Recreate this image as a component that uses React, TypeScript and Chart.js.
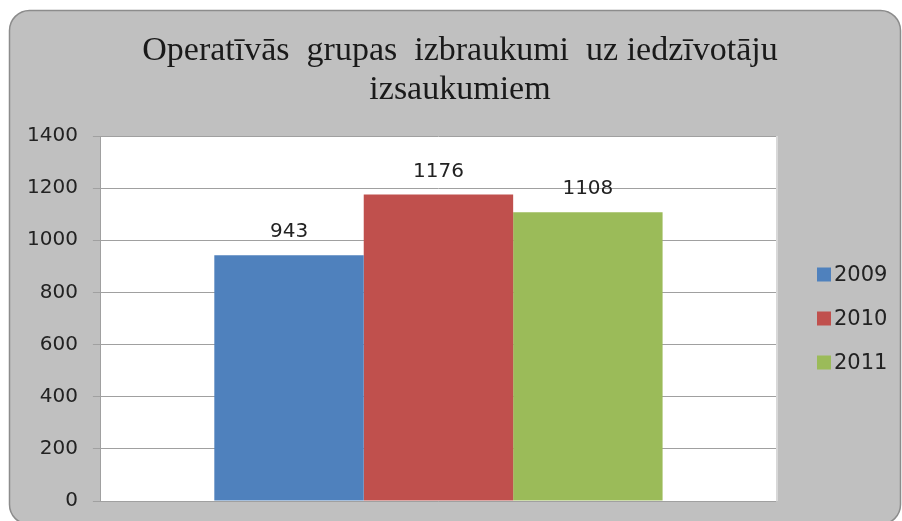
import React, { useEffect, useRef } from "react";
import { Chart, registerables } from "chart.js";

Chart.register(...registerables);

const titleLines = ["Operatīvās  grupas  izbraukumi  uz iedzīvotāju", "izsaukumiem"];
const categories = [""];
const seriesNames = ["2009", "2010", "2011"];
const seriesValues = [[943], [1176], [1108]];
const seriesColors = ["#4F81BD", "#C0504D", "#9BBB59"];
const yMin = 0;
const yMax = 1400;
const yStep = 200;

const bgPlugin = {
  id: "bgPlugin",
  beforeDraw(chart: any) {
    const { ctx, chartArea } = chart;
    ctx.save();
    ctx.fillStyle = "#ffffff";
    ctx.fillRect(0, 0, chart.width, chart.height);
    ctx.beginPath();
    (ctx as any).roundRect(9.5, 10.5, 891, 514, 20);
    ctx.fillStyle = "#C0C0C0";
    ctx.fill();
    ctx.lineWidth = 1.5;
    ctx.strokeStyle = "#8C8C8C";
    ctx.stroke();
    ctx.fillStyle = "#ffffff";
    ctx.fillRect(chartArea.left, chartArea.top, chartArea.right - chartArea.left, chartArea.bottom - chartArea.top);
    ctx.fillStyle = "#D8D8D8";
    ctx.fillRect(chartArea.right, chartArea.top, 2, chartArea.bottom - chartArea.top);
    ctx.restore();
  },
};

const overlayPlugin = {
  id: "overlayPlugin",
  afterDatasetsDraw(chart: any) {
    const { ctx, chartArea } = chart;
    ctx.save();
    ctx.font = "20px 'DejaVu Sans'";
    ctx.fillStyle = "#222";
    ctx.textAlign = "center";
    ctx.textBaseline = "middle";
    chart.data.datasets.forEach((ds: any, i: number) => {
      const meta = chart.getDatasetMeta(i);
      meta.data.forEach((bar: any, j: number) => {
        ctx.fillText(String(ds.data[j]), bar.x, bar.y - 23);
      });
    });
    ctx.font = "34px 'Liberation Serif'";
    ctx.fillStyle = "#1a1a1a";
    ctx.textAlign = "center";
    titleLines.forEach((line, i) => {
      ctx.fillText(line, 460, 51 + i * 39);
    });
    const cy = (chartArea.top + chartArea.bottom) / 2;
    const lx = chartArea.right + 41;
    ctx.font = "21px 'DejaVu Sans'";
    ctx.textAlign = "left";
    seriesNames.forEach((name, i) => {
      const y = cy + (i - (seriesNames.length - 1) / 2) * 44;
      ctx.fillStyle = seriesColors[i];
      ctx.fillRect(lx, y - 7, 14, 14);
      ctx.fillStyle = "#222";
      ctx.fillText(name, lx + 17, y + 1);
    });
    ctx.restore();
  },
};

export default function App() {
  const ref = useRef<HTMLCanvasElement>(null);
  useEffect(() => {
    if (!ref.current) return;
    const chart = new Chart(ref.current, {
      type: "bar",
      data: {
        labels: categories,
        datasets: seriesNames.map((n, i) => ({
          label: n,
          data: seriesValues[i],
          backgroundColor: seriesColors[i],
          borderWidth: 0,
          categoryPercentage: 0.664,
          barPercentage: 1,
        })),
      },
      options: {
        responsive: false,
        animation: false,
        layout: { padding: { left: 12, right: 126, top: 136, bottom: 14 } },
        plugins: {
          title: { display: false },
          legend: { display: false },
          tooltip: { enabled: false },
        },
        scales: {
          x: {
            display: false,
          },
          y: {
            min: yMin,
            max: yMax,
            ticks: {
              stepSize: yStep,
              color: "#222",
              padding: 15,
              font: { family: "'DejaVu Sans'", size: 20 },
              callback: (v: any) => String(v),
            },
            grid: { color: "#A0A0A0", tickLength: 8 },
            border: { color: "#A0A0A0", width: 1 },
          },
        },
      },
      plugins: [bgPlugin, overlayPlugin],
    });
    return () => chart.destroy();
  }, []);
  return (
    <div style={{ position: "absolute", left: 0, top: 0, width: 902, height: 521, overflow: "hidden" }}>
      <canvas ref={ref} width={902} height={528} style={{ display: "block" }} />
    </div>
  );
}
